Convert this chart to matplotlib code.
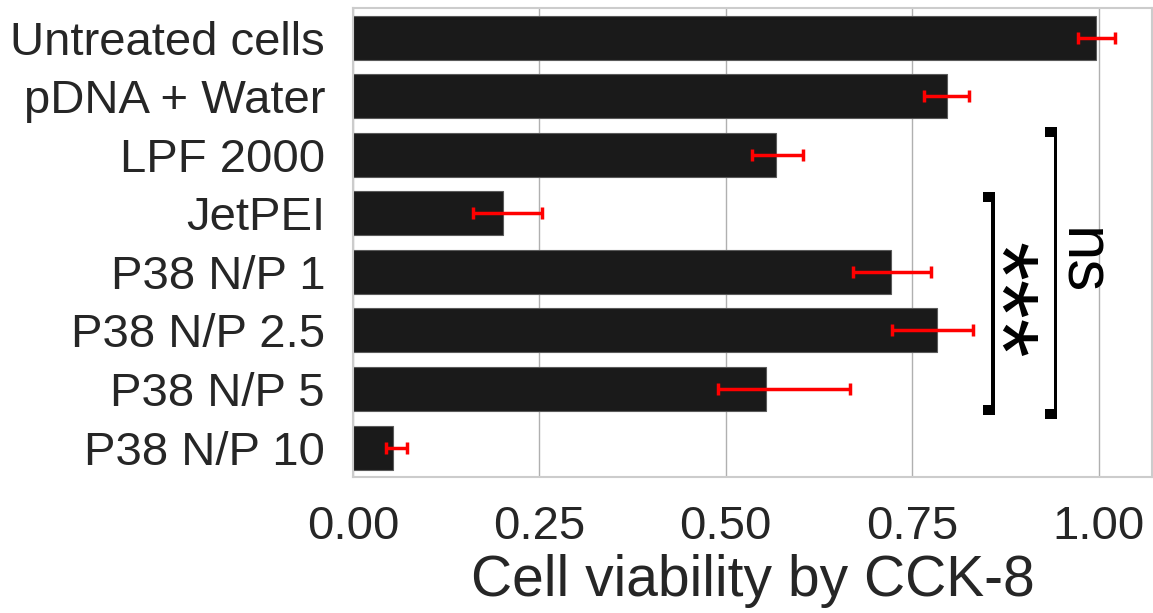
import matplotlib
matplotlib.use("Agg")
import matplotlib.pyplot as plt
from matplotlib.patches import Rectangle
import numpy as np

# Cell viability (CCK-8) for each treatment group
groups = ["Untreated cells", "pDNA + Water", "LPF 2000", "JetPEI",
          "P38 N/P 1", "P38 N/P 2.5", "P38 N/P 5", "P38 N/P 10"]
viability = [0.997, 0.796, 0.567, 0.202, 0.721, 0.783, 0.554, 0.054]
err_low = [0.025, 0.030, 0.032, 0.041, 0.051, 0.060, 0.065, 0.009]
err_high = [0.025, 0.030, 0.036, 0.052, 0.054, 0.048, 0.113, 0.019]
xticks = [0.00, 0.25, 0.50, 0.75, 1.00]

TEXT = "#262626"
plt.rcParams["font.family"] = ["Liberation Sans", "DejaVu Sans"]

fig = plt.figure(figsize=(11.53, 6.13), dpi=100)
ax = fig.add_axes([0.306, 0.222, 0.6935, 0.7645])

y = np.arange(len(groups))
ax.barh(y, viability, height=0.75, color="#1a1a1a", edgecolor="#5a5a5a",
        linewidth=0.8, zorder=2)
ax.errorbar(viability, y, xerr=[err_low, err_high], fmt="none",
            ecolor="#ff0000", elinewidth=2.5, capsize=4, capthick=2.5, zorder=3)

ax.set_xlim(0, 1.072)
ax.set_ylim(len(groups) - 0.5, -0.5)
ax.set_yticks(y)
ax.set_yticklabels(groups)
ax.set_xticks(xticks)
ax.set_xticklabels([f"{v:.2f}" for v in xticks])
ax.tick_params(axis="both", length=0, labelsize=34, labelcolor=TEXT, pad=20)
ax.set_xlabel("Cell viability by CCK-8", fontsize=41, color=TEXT, labelpad=4)

ax.grid(axis="x", color="#b0b0b0", linewidth=1.0, zorder=0)
ax.set_axisbelow(True)
for s in ax.spines.values():
    s.set_color("#cccccc")
    s.set_linewidth(1.5)


def bracket(x, y0, y1, hook_w=0.016, hook_h=0.17, lw_data=0.0047):
    # vertical bar of the bracket, with square hooks pointing left at both ends
    right = x + lw_data / 2
    ax.add_patch(Rectangle((x - lw_data / 2, y0), lw_data, y1 - y0,
                           facecolor="black", edgecolor="none", zorder=4,
                           clip_on=False))
    ax.add_patch(Rectangle((right - hook_w, y0), hook_w, hook_h,
                           facecolor="black", edgecolor="none", zorder=4,
                           clip_on=False))
    ax.add_patch(Rectangle((right - hook_w, y1 - hook_h), hook_w, hook_h,
                           facecolor="black", edgecolor="none", zorder=4,
                           clip_on=False))


# significance brackets
bracket(0.858, 2.63, 6.44)
ax.text(0.858, 4.48, "***", rotation=270, fontsize=72, color="black",
        ha="center", va="center", zorder=5)
bracket(0.942, 1.53, 6.51)
ax.text(0.975, 3.83, "ns", rotation=270, fontsize=46, color="black",
        ha="center", va="center", zorder=5)

fig.savefig("out.png", dpi=100, facecolor="white")
